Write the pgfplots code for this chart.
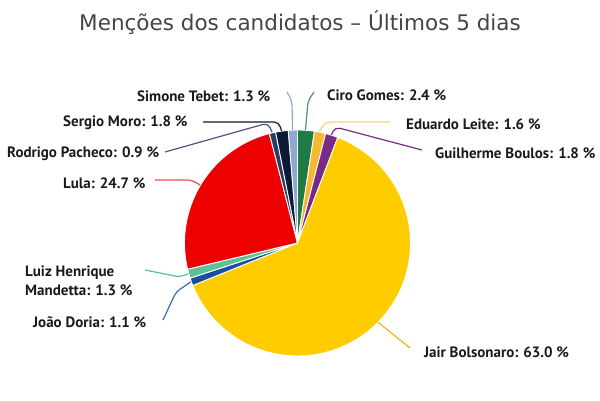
\documentclass[border=0pt]{standalone}
\usepackage{pgfplots}
\pgfplotsset{compat=1.18}
\usepackage{fontspec}
\setmainfont{PT Sans}
\newfontfamily\titlefont{DejaVu Sans}
\definecolor{cCiro}{HTML}{1E7B43}
\definecolor{cLeite}{HTML}{F5B82E}
\definecolor{cBoulos}{HTML}{7A2A86}
\definecolor{cJair}{HTML}{FFCC00}
\definecolor{cDoria}{HTML}{1D4E9E}
\definecolor{cMand}{HTML}{5DC196}
\definecolor{cLula}{HTML}{EE0000}
\definecolor{cPach}{HTML}{2E3A66}
\definecolor{cMoro}{HTML}{0C1A36}
\definecolor{cTebet}{HTML}{8EA9D1}
\definecolor{ctitle}{HTML}{444444}
\definecolor{clabel}{HTML}{1A1A1A}
% shares (%), clockwise from the top
\def\vCiro{2.4}
\def\vLeite{1.6}
\def\vBoulos{1.8}
\def\vJair{63.0}
\def\vDoria{1.1}
\def\vMand{1.3}
\def\vLula{24.7}
\def\vPach{0.9}
\def\vMoro{1.8}
\def\vTebet{1.3}
\begin{document}
\begin{tikzpicture}
\pgfmathsetmacro\T{\vCiro+\vLeite+\vBoulos+\vJair+\vDoria+\vMand+\vLula+\vPach+\vMoro+\vTebet}
\pgfmathsetmacro\k{360/\T}
\pgfmathsetmacro\aA{90}
\pgfmathsetmacro\aB{\aA-\k*\vCiro}
\pgfmathsetmacro\aC{\aB-\k*\vLeite}
\pgfmathsetmacro\aD{\aC-\k*\vBoulos}
\pgfmathsetmacro\aE{\aD-\k*\vJair}
\pgfmathsetmacro\aF{\aE-\k*\vDoria}
\pgfmathsetmacro\aG{\aF-\k*\vMand}
\pgfmathsetmacro\aH{\aG-\k*\vLula}
\pgfmathsetmacro\aI{\aH-\k*\vPach}
\pgfmathsetmacro\aJ{\aI-\k*\vMoro}
\pgfmathsetmacro\aK{\aJ-\k*\vTebet}
\def\cx{297.5}
\def\cy{243}
\def\R{113}
\begin{axis}[
  width=600pt, height=400pt, scale only axis,
  xmin=0, xmax=600, ymin=0, ymax=400, y dir=reverse,
  hide axis, clip=false,
  every axis plot/.append style={no markers, draw=white, line width=0.9pt, line join=round},
]
\path (axis cs:0,0) rectangle (axis cs:600,400);
\addplot[fill=cCiro,   domain=\aB:\aA, samples=10, variable=\t] ({\cx+\R*cos(\t)},{\cy-\R*sin(\t)}) -- (axis cs:\cx,\cy) -- cycle;
\addplot[fill=cLeite,  domain=\aC:\aB, samples=10, variable=\t] ({\cx+\R*cos(\t)},{\cy-\R*sin(\t)}) -- (axis cs:\cx,\cy) -- cycle;
\addplot[fill=cBoulos, domain=\aD:\aC, samples=10, variable=\t] ({\cx+\R*cos(\t)},{\cy-\R*sin(\t)}) -- (axis cs:\cx,\cy) -- cycle;
\addplot[fill=cJair,   domain=\aE:\aD, samples=120, variable=\t] ({\cx+\R*cos(\t)},{\cy-\R*sin(\t)}) -- (axis cs:\cx,\cy) -- cycle;
\addplot[fill=cDoria,  domain=\aF:\aE, samples=10, variable=\t] ({\cx+\R*cos(\t)},{\cy-\R*sin(\t)}) -- (axis cs:\cx,\cy) -- cycle;
\addplot[fill=cMand,   domain=\aG:\aF, samples=10, variable=\t] ({\cx+\R*cos(\t)},{\cy-\R*sin(\t)}) -- (axis cs:\cx,\cy) -- cycle;
\addplot[fill=cLula,   domain=\aH:\aG, samples=60, variable=\t] ({\cx+\R*cos(\t)},{\cy-\R*sin(\t)}) -- (axis cs:\cx,\cy) -- cycle;
\addplot[fill=cPach,   domain=\aI:\aH, samples=10, variable=\t] ({\cx+\R*cos(\t)},{\cy-\R*sin(\t)}) -- (axis cs:\cx,\cy) -- cycle;
\addplot[fill=cMoro,   domain=\aJ:\aI, samples=10, variable=\t] ({\cx+\R*cos(\t)},{\cy-\R*sin(\t)}) -- (axis cs:\cx,\cy) -- cycle;
\addplot[fill=cTebet,  domain=\aK:\aJ, samples=10, variable=\t] ({\cx+\R*cos(\t)},{\cy-\R*sin(\t)}) -- (axis cs:\cx,\cy) -- cycle;
% connectors
\begin{scope}[line width=1.2pt, rounded corners=5pt]
\draw[cTebet]  (axis cs:287,92) -- (axis cs:292,101) -- (axis cs:292.5,130);
\draw[cCiro!80]   (axis cs:314,92) -- (axis cs:308,101) -- (axis cs:305.5,130);
\draw[cMoro]   (axis cs:203,122) -- (axis cs:279,122) -- (axis cs:281.5,131);
\draw[cPach!85]   (axis cs:165,152) -- (axis cs:268,123) -- (axis cs:272,132);
\draw[cLula!70]   (axis cs:155,180) -- (axis cs:192,180) -- (axis cs:200,185);
\draw[cMand]   (axis cs:145,270) -- (axis cs:180,277) -- (axis cs:188.3,273.8);
\draw[cDoria!85]  (axis cs:163,320) -- (axis cs:176,292) -- (axis cs:190.9,281.8);
\draw[cLeite!60]  (axis cs:390,122) -- (axis cs:325,122) -- (axis cs:319.5,132);
\draw[cBoulos] (axis cs:422,150) -- (axis cs:335,127) -- (axis cs:331.4,135);
\draw[cJair!70!brown]   (axis cs:410,348) -- (axis cs:377.7,322);
\end{scope}
% labels
\begin{scope}[every node/.style={font=\bfseries\fontsize{15}{16}\selectfont, text=clabel, inner sep=0pt}]
\node[anchor=west] at (axis cs:137,96) {Simone Tebet: 1.3 \%};
\node[anchor=west] at (axis cs:327,95) {Ciro Gomes: 2.4 \%};
\node[anchor=west] at (axis cs:63,123) {Sergio Moro: 1.8 \%};
\node[anchor=west] at (axis cs:7,154) {Rodrigo Pacheco: 0.9 \%};
\node[anchor=west] at (axis cs:63,183) {Lula: 24.7 \%};
\node[anchor=west] at (axis cs:25,273) {Luiz Henrique};
\node[anchor=west] at (axis cs:25,290) {Mandetta: 1.3 \%};
\node[anchor=west] at (axis cs:33,322) {João Doria: 1.1 \%};
\node[anchor=west] at (axis cs:406,124) {Eduardo Leite: 1.6 \%};
\node[anchor=west] at (axis cs:435,153) {Guilherme Boulos: 1.8 \%};
\node[anchor=west] at (axis cs:424,352) {Jair Bolsonaro: 63.0 \%};
\end{scope}
\node[anchor=base, text=ctitle, font=\titlefont\fontsize{21.5}{23}\selectfont, inner sep=0pt] at (axis cs:300,30) {Menções dos candidatos – Últimos 5 dias};
\end{axis}
\end{tikzpicture}
\end{document}
